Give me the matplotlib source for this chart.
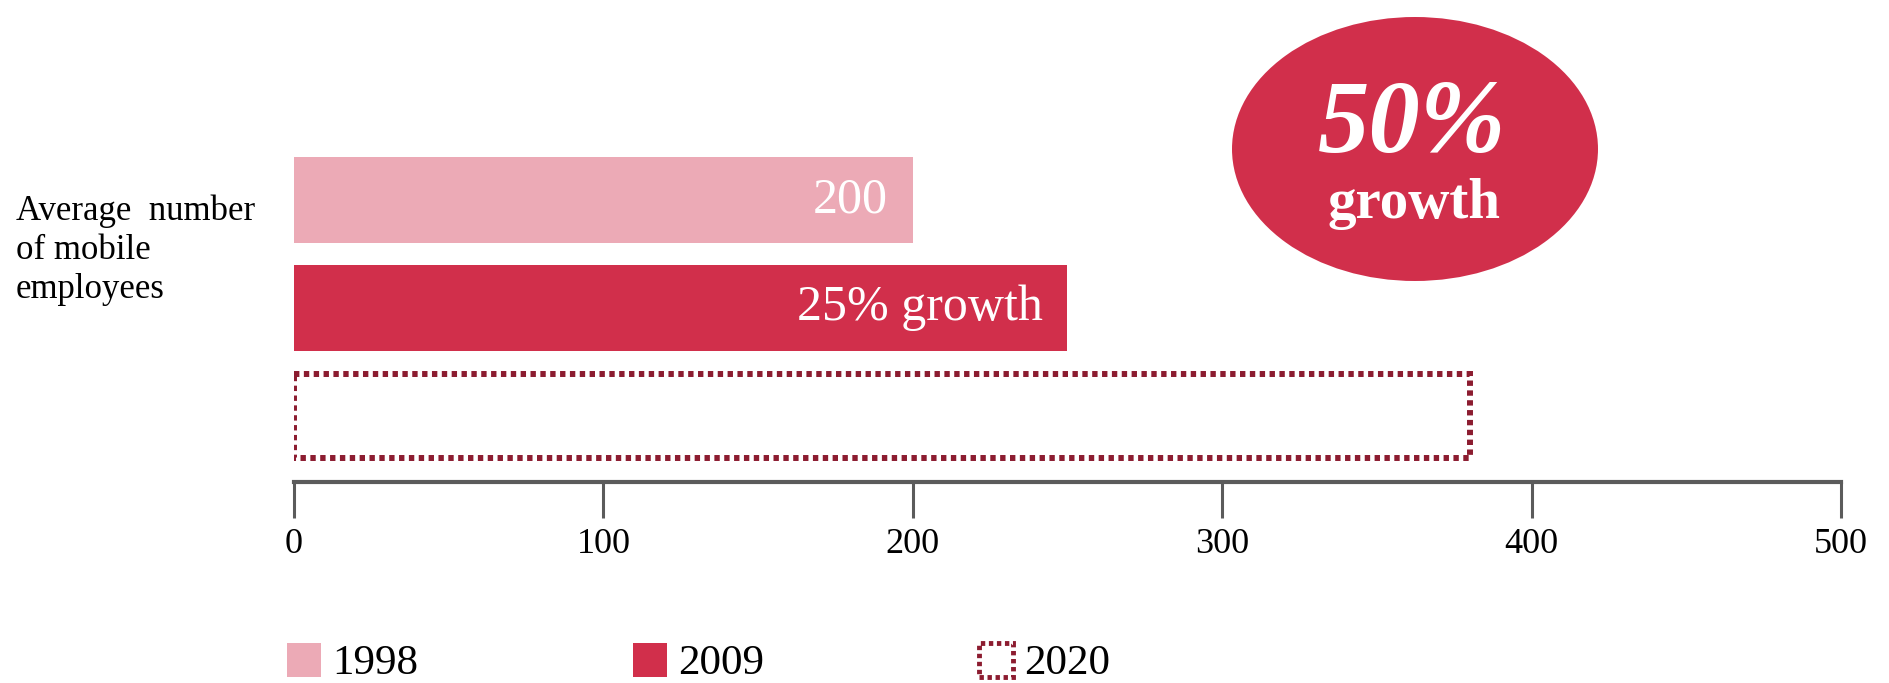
import matplotlib
matplotlib.use("Agg")
import matplotlib.pyplot as plt
from matplotlib.patches import Patch, Ellipse

years = ["1998", "2009", "2020"]
employees = [200, 250, 380]
bar_labels = ["200", "25% growth", ""]
xticks = [0, 100, 200, 300, 400, 500]
row_label = "Average  number\nof mobile\nemployees"
bubble_big = "50%"
bubble_small = "growth"

pink = "#ecaab6"
red = "#d12f4b"
dark = "#8c1c30"
grey = "#5b5b5b"

plt.rcParams["font.family"] = ["Liberation Serif", "DejaVu Serif"]

fig = plt.figure(figsize=(18.9, 6.83), dpi=100)
ax = fig.add_axes([294 / 1890, 1 - 482 / 683, 1547 / 1890, 342 / 683])

pos = list(range(len(years)))
ax.barh(pos[0], employees[0], height=0.8, color=pink)
ax.barh(pos[1], employees[1], height=0.8, color=red)
ax.barh(pos[2], employees[2], height=0.78, facecolor="none", edgecolor=dark,
        linewidth=4.3, linestyle=(0, (0.9, 0.75)))

for p, v, lab in zip(pos, employees, bar_labels):
    if lab:
        ax.annotate(lab, (v, p), xytext=(-18, 0), textcoords="offset points",
                    ha="right", va="center", color="white", fontsize=36)

ax.set_xlim(0, 500)
ax.set_ylim(2.61, -0.556)
ax.set_yticks([])
ax.set_xticks(xticks)
ax.set_xticklabels([str(t) for t in xticks], fontsize=26)
for s in ["top", "left", "right"]:
    ax.spines[s].set_visible(False)
ax.spines["bottom"].set_color(grey)
ax.spines["bottom"].set_linewidth(3)
ax.tick_params(axis="x", direction="out", length=26, width=2.2, color=grey, pad=7)

fig.text(16 / 1890, 1 - 298 / 683, row_label, fontsize=25, va="baseline",
         ha="left", linespacing=1.25)

# growth bubble
fig.patches.append(Ellipse((1415 / 1890, 1 - 149 / 683), 366 / 1890, 264 / 683,
                           transform=fig.transFigure, facecolor=red, edgecolor="none"))
fig.text(1412 / 1890, 1 - 152 / 683, bubble_big, fontsize=74, fontweight="bold",
         fontstyle="italic", color="white", ha="center", va="baseline")
fig.text(1414 / 1890, 1 - 218 / 683, bubble_small, fontsize=41, fontweight="bold",
         color="white", ha="center", va="baseline")

handles = [Patch(facecolor=pink, edgecolor="none"),
           Patch(facecolor=red, edgecolor="none"),
           Patch(facecolor="none", edgecolor=dark, linewidth=3.5, linestyle=(0, (0.9, 0.75)))]
fig.legend(handles, years, loc="center left", bbox_to_anchor=(287 / 1890, 1 - 663 / 683),
           ncol=3, frameon=False, fontsize=31, handlelength=0.79, handleheight=0.84,
           handletextpad=0.25, columnspacing=5.0, borderpad=0, borderaxespad=0)

fig.savefig("out.png", dpi=100)
